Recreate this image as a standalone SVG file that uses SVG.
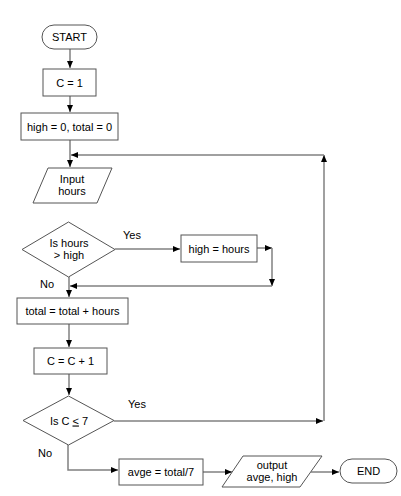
<svg xmlns="http://www.w3.org/2000/svg" width="401" height="496" viewBox="0 0 401 496">
<style>
.s{fill:#fff;stroke:#555;stroke-width:1}
.t{font-family:"Liberation Sans",Arial,sans-serif;font-size:11px;fill:#000;text-anchor:middle}
.l{font-family:"Liberation Sans",Arial,sans-serif;font-size:11px;fill:#000}
.c{fill:none;stroke:#808080;stroke-width:1.5}
</style>
<defs>
<marker id="a" markerUnits="userSpaceOnUse" markerWidth="8" markerHeight="8" refX="7" refY="4" orient="auto">
<path d="M0,1 L7,4 L0,7 Z" fill="#000"/>
</marker>
</defs>
<rect width="401" height="496" fill="#fff"/>
<g id="connectors">
<path class="c" d="M70,48 V68" marker-end="url(#a)"/>
<path class="c" d="M70,96 V112" marker-end="url(#a)"/>
<path class="c" d="M70,140 V167" marker-end="url(#a)"/>
<path class="c" d="M69,277 V297" marker-end="url(#a)"/>
<path class="c" d="M69,324 V347" marker-end="url(#a)"/>
<path class="c" d="M69,374 V395" marker-end="url(#a)"/>
<path class="c" d="M115,249 H180" marker-end="url(#a)"/>
<path class="c" d="M257,248 H272" marker-end="url(#a)"/>
<path class="c" d="M272,248 V286" marker-end="url(#a)"/>
<path class="c" d="M272,286 H70" marker-end="url(#a)"/>
<path class="c" d="M114,421 H323" marker-end="url(#a)"/>
<path class="c" d="M324,421 V155" marker-end="url(#a)"/>
<path class="c" d="M324,155 H71" marker-end="url(#a)"/>
<path class="c" d="M68,445 V470 H118" marker-end="url(#a)"/>
<path class="c" d="M203,472 H232" marker-end="url(#a)"/>
<path class="c" d="M311,472 H339" marker-end="url(#a)"/>
<text class="l" x="123" y="239">Yes</text>
<text class="l" x="40" y="288">No</text>
<text class="l" x="128" y="408">Yes</text>
<text class="l" x="38" y="457">No</text>
</g>
<g id="start">
<rect class="s" x="42" y="25" width="55" height="24" rx="12"/>
<text class="t" x="69.5" y="41">START</text>
</g>
<g id="c1">
<rect class="s" x="43" y="69" width="53" height="27"/>
<text class="t" x="69.5" y="86.5">C = 1</text>
</g>
<g id="init">
<rect class="s" x="21" y="113" width="97" height="27"/>
<text class="t" x="69.5" y="130.5">high = 0, total = 0</text>
</g>
<g id="input">
<polygon class="s" points="48,168 112,168 97,203 33,203"/>
<text class="t" x="72" y="183">Input</text>
<text class="t" x="72" y="195">hours</text>
</g>
<g id="dec1">
<polygon class="s" points="68.5,222 115,249.5 68.5,277 22,249.5"/>
<text class="t" x="69" y="247">Is hours</text>
<text class="t" x="69" y="259">&gt; high</text>
</g>
<g id="sethigh">
<rect class="s" x="181" y="235" width="76" height="27"/>
<text class="t" x="219" y="252.5">high = hours</text>
</g>
<g id="total">
<rect class="s" x="17" y="298" width="111" height="26"/>
<text class="t" x="72.5" y="315">total = total + hours</text>
</g>
<g id="inc">
<rect class="s" x="34" y="348" width="73" height="26"/>
<text class="t" x="70.5" y="365">C = C + 1</text>
</g>
<g id="dec2">
<polygon class="s" points="68.5,396 114,420.5 68.5,445 23,420.5"/>
<text class="t" x="69" y="424.5">Is C <tspan text-decoration="underline">&lt;</tspan> 7</text>
</g>
<g id="avge">
<rect class="s" x="119" y="459" width="84" height="26"/>
<text class="t" x="161" y="476">avge = total/7</text>
</g>
<g id="output">
<polygon class="s" points="243,456 322,456 300,487 222,487"/>
<text class="t" x="272" y="469">output</text>
<text class="t" x="272" y="481">avge, high</text>
</g>
<g id="end">
<rect class="s" x="340" y="459" width="57" height="24" rx="12"/>
<text class="t" x="368.5" y="475">END</text>
</g>
</svg>
